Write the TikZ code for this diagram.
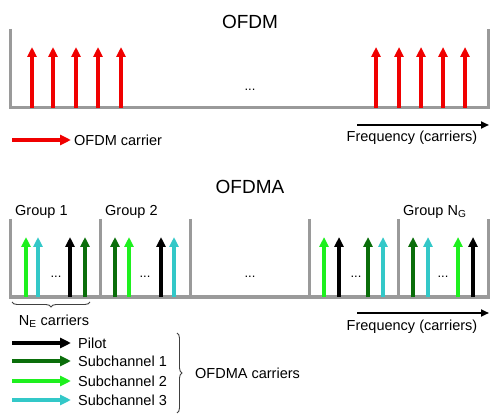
\documentclass[tikz,border=0pt]{standalone}
\usepackage{fontspec}
\setmainfont{Liberation Sans}
\usetikzlibrary{arrows.meta,decorations.pathreplacing}
\definecolor{axisgray}{HTML}{9A9A9A}
\definecolor{cred}{HTML}{F00000}
\definecolor{cdark}{HTML}{0A6E0A}
\definecolor{clight}{HTML}{1EF01E}
\definecolor{ccyan}{HTML}{33C8C8}
\definecolor{bracegray}{HTML}{404040}
\begin{document}
\begin{tikzpicture}[x=1pt,y=-1pt,
  carrier/.style={line width=3.3pt,-{Triangle[length=10pt,width=9pt]}},
  legarrow/.style={line width=3.8pt,-{Triangle[length=11pt,width=10pt]}},
  freqarrow/.style={line width=2pt,-{Triangle[length=8pt,width=7pt]}},
  axisline/.style={draw=axisgray,line width=3pt,line join=miter},
  lbl/.style={font=\fontsize{14.5}{17}\selectfont,inner sep=0pt},
  ttl/.style={font=\fontsize{19}{22}\selectfont,inner sep=0pt},
  dots/.style={font=\fontsize{13}{15}\selectfont,inner sep=0pt},
  bracestyle/.style={draw=bracegray,line width=0.9pt,decorate}]
\useasboundingbox (0,0) rectangle (500,419);

% ---------------- OFDM ----------------
\node[ttl] (t1) at (250,22) {OFDM};
\draw[axisline] (10.5,29) -- (10.5,108) -- (488,108) -- (488,29);
\foreach \x in {32,53,76,98,121,376,399,421,443,465}
  \draw[carrier,cred] (\x,108) -- (\x,47);
\node[dots] (d1) at (250,90) {...};

\coordinate (la0) at (12,140);
\coordinate (la1) at (71,140);
\draw[legarrow,cred] (la0) -- (la1);
\node[lbl,anchor=west] (l1) at (74,140) {OFDM carrier};

\coordinate (f0) at (357,125);
\coordinate (f1) at (489,125);
\draw[freqarrow] (f0) -- (f1);
\node[lbl] (fl1) at (412,138) {Frequency (carriers)};

% ---------------- OFDMA ----------------
\node[ttl] (t2) at (250,187) {OFDMA};
\node[lbl,anchor=west] (g1) at (15,212) {Group 1};
\node[lbl,anchor=west] (g2) at (105,212) {Group 2};
\node[lbl,anchor=west] (gn) at (403,212) {Group N\textsubscript{G}};

\draw[axisline] (10.5,219) -- (10.5,297) -- (488,297) -- (488,219);
\foreach \x in {100,190,309,398}
  \draw[axisline] (\x,219) -- (\x,297);

\foreach \x/\c in {26/clight,38/ccyan,70/black,85/cdark,
                   115/cdark,129/clight,161/black,174/ccyan,
                   324/clight,339/black,368/cdark,383/ccyan,
                   413/cdark,428/ccyan,458/clight,473/black}
  \draw[carrier,\c] (\x,297) -- (\x,237);

\foreach \x in {56,145,250,356,443}
  \node[dots] at (\x,277) {...};

\coordinate (b0) at (12,302);
\coordinate (b1) at (90,302);
\draw[bracestyle,decoration={brace,mirror,amplitude=5pt}] (b0) -- (b1);
\node[lbl] (ne) at (54,321) {N\textsubscript{E} carriers};

\coordinate (f2) at (357,313);
\coordinate (f3) at (489,313);
\draw[freqarrow] (f2) -- (f3);
\node[lbl] (fl2) at (412,327) {Frequency (carriers)};

\foreach \y/\c/\t/\n in {343/black/Pilot/p,361/cdark/Subchannel 1/s1,
                         381/clight/Subchannel 2/s2,400/ccyan/Subchannel 3/s3}{
  \coordinate (a\n) at (12,\y);
  \coordinate (e\n) at (71,\y);
  \draw[legarrow,\c] (a\n) -- (e\n);
  \node[lbl,anchor=west] (t\n) at (78,\y) {\t};
}

\coordinate (c0) at (177,333);
\coordinate (c1) at (177,413);
\draw[bracestyle,decoration={brace,amplitude=5pt}] (c0) -- (c1);
\node[lbl,anchor=west] (oc) at (195,373) {OFDMA carriers};
\end{tikzpicture}
\end{document}
